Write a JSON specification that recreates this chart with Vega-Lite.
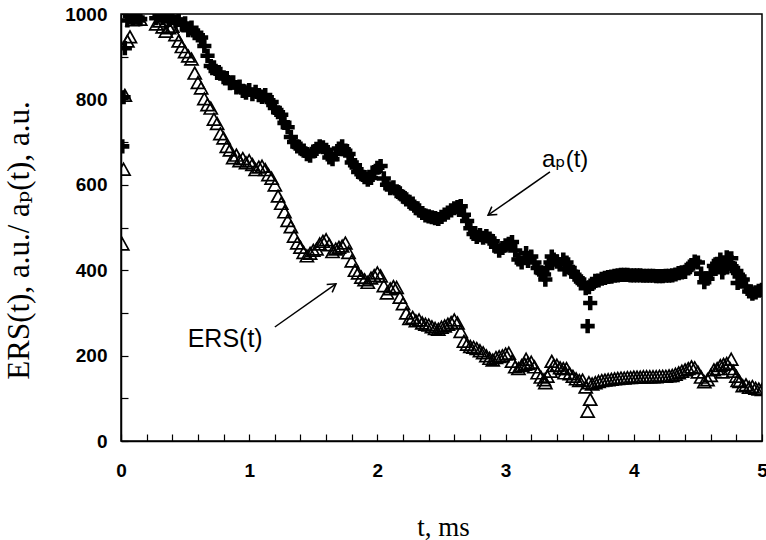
{
  "$schema": "https://vega.github.io/schema/vega-lite/v6.json",
  "width": 641,
  "height": 427,
  "autosize": {"type": "none"},
  "padding": {"left": 121, "top": 14, "right": 4, "bottom": 99},
  "background": "white",
  "config": {
    "view": {"stroke": "black", "strokeWidth": 1.5},
    "axis": {
      "grid": false,
      "domainColor": "black",
      "domainWidth": 1.5,
      "tickColor": "black",
      "tickWidth": 1.2,
      "tickSize": -7,
      "labelFont": "Liberation Sans",
      "labelFontWeight": "bold",
      "labelFontSize": 19,
      "labelColor": "black",
      "labelFlush": false,
      "labelOverlap": false,
      "titleFont": "Liberation Serif, DejaVu Serif",
      "titleFontWeight": "normal",
      "titleColor": "black"
    }
  },
  "datasets": {
    "main": [
      {"t":0.01,"a":690,"e":460},{"t":0.02,"a":805,"e":635},{"t":0.03,"a":920,"e":808},{"t":0.05,"a":985,"e":935},{"t":0.07,"a":995,"e":945},{"t":0.09,"a":990,"e":985},{"t":0.11,"a":996,"e":990},{"t":0.13,"a":992,"e":994},{"t":0.15,"a":988,"e":986},
      {"t":0.275,"a":990,"e":975},{"t":0.3,"a":996,"e":982},{"t":0.325,"a":990,"e":968},{"t":0.35,"a":994,"e":958},{"t":0.375,"a":986,"e":966},{"t":0.4,"a":990,"e":970},{"t":0.425,"a":982,"e":950},{"t":0.45,"a":987,"e":935},{"t":0.475,"a":975,"e":922},{"t":0.5,"a":978,"e":910},{"t":0.525,"a":962,"e":900},{"t":0.55,"a":968,"e":893},{"t":0.575,"a":955,"e":860},{"t":0.6,"a":950,"e":838},{"t":0.625,"a":945,"e":825},{"t":0.65,"a":925,"e":800},{"t":0.675,"a":902,"e":786},{"t":0.7,"a":878,"e":778},{"t":0.725,"a":875,"e":752},{"t":0.75,"a":862,"e":742},{"t":0.775,"a":860,"e":718},{"t":0.8,"a":852,"e":708},{"t":0.825,"a":850,"e":688},{"t":0.85,"a":838,"e":680},{"t":0.875,"a":840,"e":662},{"t":0.9,"a":828,"e":668},{"t":0.925,"a":830,"e":655},{"t":0.95,"a":820,"e":660},{"t":0.975,"a":816,"e":650},
      {"t":1.0,"a":822,"e":655},{"t":1.025,"a":812,"e":646},{"t":1.05,"a":818,"e":634},{"t":1.075,"a":810,"e":640},{"t":1.1,"a":806,"e":642},{"t":1.125,"a":810,"e":634},{"t":1.15,"a":798,"e":622},{"t":1.175,"a":794,"e":614},{"t":1.2,"a":780,"e":598},{"t":1.225,"a":770,"e":572},{"t":1.25,"a":764,"e":555},{"t":1.275,"a":745,"e":535},{"t":1.3,"a":735,"e":515},{"t":1.325,"a":712,"e":500},{"t":1.35,"a":700,"e":478},{"t":1.375,"a":690,"e":462},{"t":1.4,"a":685,"e":452},{"t":1.425,"a":680,"e":440},{"t":1.45,"a":672,"e":432},{"t":1.475,"a":668,"e":438},{"t":1.5,"a":678,"e":445},{"t":1.525,"a":684,"e":448},{"t":1.55,"a":690,"e":460},{"t":1.575,"a":688,"e":466},{"t":1.6,"a":682,"e":470},{"t":1.625,"a":664,"e":458},{"t":1.65,"a":660,"e":442},{"t":1.675,"a":672,"e":448},{"t":1.7,"a":685,"e":452},{"t":1.725,"a":690,"e":455},{"t":1.75,"a":680,"e":462},{"t":1.775,"a":672,"e":440},{"t":1.8,"a":652,"e":420},{"t":1.825,"a":646,"e":398},{"t":1.85,"a":630,"e":392},{"t":1.875,"a":625,"e":382},{"t":1.9,"a":618,"e":376},{"t":1.925,"a":612,"e":370},{"t":1.95,"a":616,"e":380},{"t":1.975,"a":630,"e":386},
      {"t":2.0,"a":640,"e":392},{"t":2.025,"a":644,"e":385},{"t":2.05,"a":615,"e":362},{"t":2.075,"a":600,"e":345},{"t":2.1,"a":592,"e":355},{"t":2.125,"a":594,"e":360},{"t":2.15,"a":585,"e":358},{"t":2.175,"a":580,"e":335},{"t":2.2,"a":572,"e":320},{"t":2.225,"a":566,"e":298},{"t":2.25,"a":560,"e":285},{"t":2.275,"a":556,"e":288},{"t":2.3,"a":545,"e":280},{"t":2.325,"a":540,"e":282},{"t":2.35,"a":534,"e":275},{"t":2.375,"a":528,"e":272},{"t":2.4,"a":526,"e":270},{"t":2.425,"a":524,"e":266},{"t":2.45,"a":522,"e":262},{"t":2.475,"a":520,"e":260},{"t":2.5,"a":525,"e":265},{"t":2.525,"a":530,"e":268},{"t":2.55,"a":535,"e":272},{"t":2.575,"a":540,"e":276},{"t":2.6,"a":545,"e":282},{"t":2.625,"a":548,"e":275},{"t":2.65,"a":550,"e":255},{"t":2.675,"a":530,"e":232},{"t":2.7,"a":515,"e":225},{"t":2.725,"a":498,"e":220},{"t":2.75,"a":485,"e":218},{"t":2.775,"a":478,"e":215},{"t":2.8,"a":482,"e":210},{"t":2.825,"a":476,"e":205},{"t":2.85,"a":480,"e":198},{"t":2.875,"a":474,"e":192},{"t":2.9,"a":468,"e":188},{"t":2.925,"a":455,"e":194},{"t":2.95,"a":446,"e":196},{"t":2.975,"a":452,"e":198},
      {"t":3.0,"a":458,"e":202},{"t":3.025,"a":462,"e":204},{"t":3.05,"a":466,"e":185},{"t":3.075,"a":446,"e":172},{"t":3.1,"a":425,"e":168},{"t":3.125,"a":418,"e":175},{"t":3.15,"a":428,"e":178},{"t":3.16,"a":440,"e":190},{"t":3.175,"a":422,"e":180},{"t":3.2,"a":432,"e":183},{"t":3.225,"a":418,"e":172},{"t":3.25,"a":405,"e":158},{"t":3.275,"a":395,"e":148},{"t":3.3,"a":390,"e":142},{"t":3.31,"a":378,"e":135},{"t":3.325,"a":405,"e":150},{"t":3.35,"a":418,"e":162},{"t":3.36,"a":432,"e":185},{"t":3.375,"a":425,"e":175},{"t":3.4,"a":420,"e":176},{"t":3.425,"a":414,"e":170},{"t":3.45,"a":425,"e":168},{"t":3.46,"a":402,"e":158},{"t":3.475,"a":418,"e":168},{"t":3.5,"a":405,"e":156},{"t":3.525,"a":396,"e":150},{"t":3.55,"a":385,"e":144},{"t":3.575,"a":378,"e":140},{"t":3.6,"a":370,"e":141},{"t":3.625,"a":358,"e":125},{"t":3.64,"a":269,"e":68},{"t":3.65,"a":360,"e":135},{"t":3.66,"a":323,"e":96},{"t":3.675,"a":368,"e":132},
      {"t":3.7,"a":375,"e":135},{"t":3.725,"a":376,"e":138},{"t":3.75,"a":380,"e":140},{"t":3.775,"a":382,"e":141},{"t":3.8,"a":384,"e":142},{"t":3.825,"a":385,"e":143},{"t":3.85,"a":387,"e":144},{"t":3.875,"a":388,"e":145},{"t":3.9,"a":389,"e":146},{"t":3.925,"a":389,"e":146},{"t":3.95,"a":389,"e":147},{"t":3.975,"a":388,"e":147},
      {"t":4.0,"a":388,"e":148},{"t":4.025,"a":388,"e":148},{"t":4.05,"a":388,"e":148},{"t":4.075,"a":387,"e":149},{"t":4.1,"a":387,"e":149},{"t":4.125,"a":387,"e":149},{"t":4.15,"a":387,"e":149},{"t":4.175,"a":386,"e":149},{"t":4.2,"a":386,"e":150},{"t":4.225,"a":386,"e":150},{"t":4.25,"a":387,"e":150},{"t":4.275,"a":387,"e":151},{"t":4.3,"a":388,"e":152},{"t":4.325,"a":390,"e":155},{"t":4.35,"a":393,"e":158},{"t":4.375,"a":395,"e":162},{"t":4.4,"a":396,"e":165},{"t":4.425,"a":404,"e":168},{"t":4.45,"a":412,"e":172},{"t":4.475,"a":420,"e":170},{"t":4.5,"a":418,"e":160},{"t":4.525,"a":392,"e":148},{"t":4.55,"a":372,"e":137},{"t":4.575,"a":380,"e":142},{"t":4.6,"a":392,"e":152},{"t":4.625,"a":410,"e":165},{"t":4.65,"a":415,"e":168},{"t":4.675,"a":425,"e":175},{"t":4.69,"a":395,"e":160},{"t":4.7,"a":405,"e":178},{"t":4.725,"a":430,"e":180},{"t":4.75,"a":415,"e":168},{"t":4.76,"a":428,"e":190},{"t":4.775,"a":405,"e":162},{"t":4.8,"a":398,"e":150},{"t":4.81,"a":370,"e":140},{"t":4.825,"a":385,"e":138},{"t":4.85,"a":378,"e":128},{"t":4.875,"a":362,"e":130},{"t":4.9,"a":350,"e":124},{"t":4.925,"a":345,"e":126},{"t":4.95,"a":348,"e":122},{"t":4.975,"a":352,"e":120},{"t":5.0,"a":354,"e":119}
    ]
  },
  "encoding": {
    "x": {
      "field": "t", "type": "quantitative",
      "scale": {"domain": [0, 5], "nice": false, "zero": false},
      "axis": {
        "title": "t, ms",
        "values": [0,0.2,0.4,0.6,0.8,1,1.2,1.4,1.6,1.8,2,2.2,2.4,2.6,2.8,3,3.2,3.4,3.6,3.8,4,4.2,4.4,4.6,4.8,5],
        "labelExpr": "datum.value % 1 === 0 ? format(datum.value, 'd') : ''",
        "labelPadding": 27,
        "labelBaseline": "top",
        "titleFontSize": 27,
        "titleX": 322,
        "titleY": 94,
        "titleAlign": "center",
        "titleBaseline": "alphabetic"
      }
    },
    "y": {
      "field": "v", "type": "quantitative",
      "scale": {"domain": [0, 1000], "nice": false},
      "axis": {
        "title": "ERS(t), a.u./ aₚ(t), a.u.",
        "values": [0,100,200,300,400,500,600,700,800,900,1000],
        "labelExpr": "datum.value % 200 === 0 ? format(datum.value, 'd') : ''",
        "labelPadding": 21,
        "titleFontSize": 31,
        "titleAngle": -90,
        "titleX": -102,
        "titleY": 226,
        "titleAlign": "center",
        "titleBaseline": "middle"
      }
    }
  },
  "layer": [
    {
      "data": {"name": "main"},
      "transform": [{"fold": ["a", "e"], "as": ["series", "v"]}, {"filter": "datum.series === 'a'"}],
      "mark": {"type": "point", "shape": "M-1,-0.32H-0.32V-1H0.32V-0.32H1V0.32H0.32V1H-0.32V0.32H-1Z", "filled": true, "color": "black", "size": 200, "opacity": 1, "clip": true}
    },
    {
      "data": {"name": "main"},
      "transform": [{"fold": ["a", "e"], "as": ["series", "v"]}, {"filter": "datum.series === 'e'"}],
      "mark": {"type": "point", "shape": "M0,-1L1,0.8L-1,0.8Z", "filled": false, "stroke": "black", "strokeWidth": 1.7, "size": 170, "opacity": 1, "clip": true}
    },
    {
      "data": {"values": [{"t": 1.2, "v": 267, "t2": 1.677, "v2": 368}, {"t": 3.346, "v": 630, "t2": 2.863, "v2": 529}]},
      "mark": {"type": "rule", "color": "black", "strokeWidth": 1.5},
      "encoding": {"x2": {"field": "t2"}, "y2": {"field": "v2"}}
    },
    {
      "data": {"values": [{"t": 1.677, "v": 368}]},
      "mark": {"type": "point", "shape": "M-0.6,1L0,0L0.6,1", "filled": false, "stroke": "black", "strokeWidth": 1.5, "size": 256, "angle": 55, "opacity": 1}
    },
    {
      "data": {"values": [{"t": 2.863, "v": 529}]},
      "mark": {"type": "point", "shape": "M-0.6,1L0,0L0.6,1", "filled": false, "stroke": "black", "strokeWidth": 1.5, "size": 256, "angle": 235, "opacity": 1}
    },
    {
      "data": {"values": [{"t": 0.52, "v": 239, "label": "ERS(t)"}]},
      "mark": {"type": "text", "align": "left", "baseline": "middle", "font": "Liberation Sans, DejaVu Sans", "fontSize": 25, "color": "black"},
      "encoding": {"text": {"field": "label"}}
    },
    {
      "data": {"values": [{"t": 3.284, "v": 658, "label": "aₚ(t)"}]},
      "mark": {"type": "text", "align": "left", "baseline": "middle", "font": "Liberation Sans, DejaVu Sans", "fontSize": 24, "color": "black"},
      "encoding": {"text": {"field": "label"}}
    }
  ]
}
